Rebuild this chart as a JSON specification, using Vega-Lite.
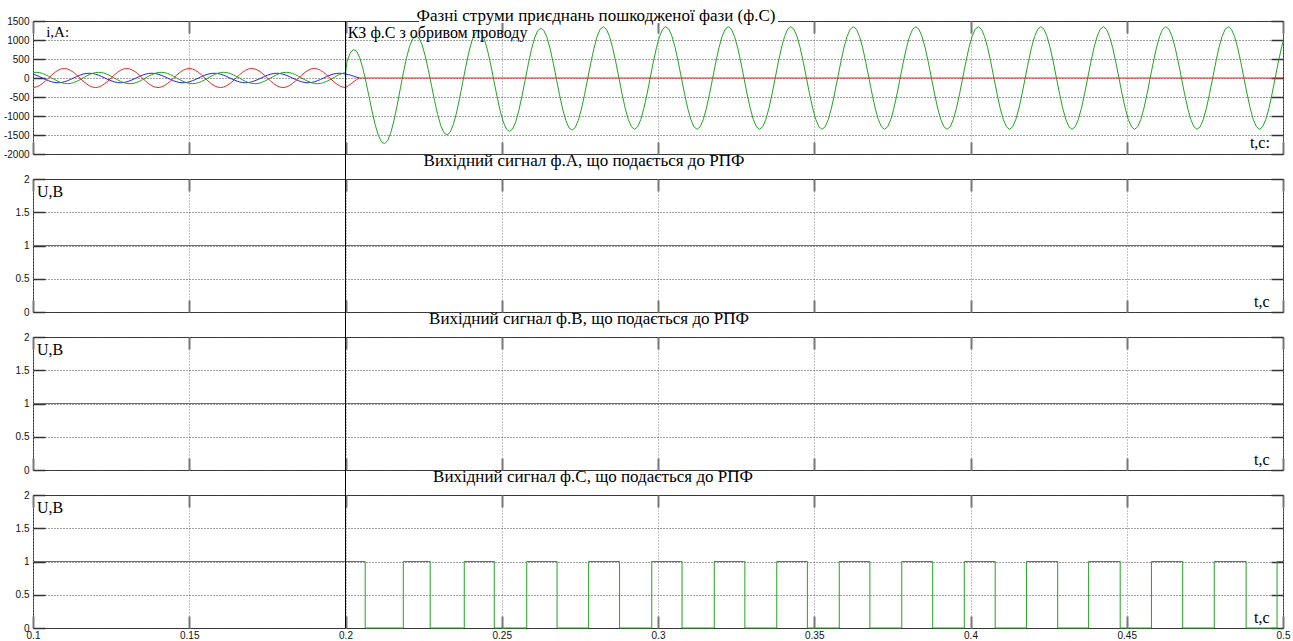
{
"$schema":"https://vega.github.io/schema/vega-lite/v6.json",
"background":"white",
"padding":{"left":2,"top":6,"right":0,"bottom":0},
"datasets":{
"pre":[
{"t":0.1,"r":-250,"g":143,"b":101},{"t":0.101,"r":-238,"g":150,"b":73},{"t":0.102,"r":-202,"g":143,"b":39},{"t":0.103,"r":-147,"g":121,"b":0},{"t":0.104,"r":-77,"g":88,"b":-39},{"t":0.105,"r":0,"g":46,"b":-73},{"t":0.106,"r":77,"g":0,"b":-101},{"t":0.107,"r":147,"g":-46,"b":-119},{"t":0.108,"r":202,"g":-88,"b":-125},{"t":0.109,"r":238,"g":-121,"b":-119},
{"t":0.11,"r":250,"g":-143,"b":-101},{"t":0.111,"r":238,"g":-150,"b":-73},{"t":0.112,"r":202,"g":-143,"b":-39},{"t":0.113,"r":147,"g":-121,"b":0},{"t":0.114,"r":77,"g":-88,"b":39},{"t":0.115,"r":0,"g":-46,"b":73},{"t":0.116,"r":-77,"g":0,"b":101},{"t":0.117,"r":-147,"g":46,"b":119},{"t":0.118,"r":-202,"g":88,"b":125},{"t":0.119,"r":-238,"g":121,"b":119},
{"t":0.12,"r":-250,"g":143,"b":101},{"t":0.121,"r":-238,"g":150,"b":73},{"t":0.122,"r":-202,"g":143,"b":39},{"t":0.123,"r":-147,"g":121,"b":0},{"t":0.124,"r":-77,"g":88,"b":-39},{"t":0.125,"r":0,"g":46,"b":-73},{"t":0.126,"r":77,"g":0,"b":-101},{"t":0.127,"r":147,"g":-46,"b":-119},{"t":0.128,"r":202,"g":-88,"b":-125},{"t":0.129,"r":238,"g":-121,"b":-119},
{"t":0.13,"r":250,"g":-143,"b":-101},{"t":0.131,"r":238,"g":-150,"b":-73},{"t":0.132,"r":202,"g":-143,"b":-39},{"t":0.133,"r":147,"g":-121,"b":0},{"t":0.134,"r":77,"g":-88,"b":39},{"t":0.135,"r":0,"g":-46,"b":73},{"t":0.136,"r":-77,"g":0,"b":101},{"t":0.137,"r":-147,"g":46,"b":119},{"t":0.138,"r":-202,"g":88,"b":125},{"t":0.139,"r":-238,"g":121,"b":119},
{"t":0.14,"r":-250,"g":143,"b":101},{"t":0.141,"r":-238,"g":150,"b":73},{"t":0.142,"r":-202,"g":143,"b":39},{"t":0.143,"r":-147,"g":121,"b":0},{"t":0.144,"r":-77,"g":88,"b":-39},{"t":0.145,"r":0,"g":46,"b":-73},{"t":0.146,"r":77,"g":0,"b":-101},{"t":0.147,"r":147,"g":-46,"b":-119},{"t":0.148,"r":202,"g":-88,"b":-125},{"t":0.149,"r":238,"g":-121,"b":-119},
{"t":0.15,"r":250,"g":-143,"b":-101},{"t":0.151,"r":238,"g":-150,"b":-73},{"t":0.152,"r":202,"g":-143,"b":-39},{"t":0.153,"r":147,"g":-121,"b":0},{"t":0.154,"r":77,"g":-88,"b":39},{"t":0.155,"r":0,"g":-46,"b":73},{"t":0.156,"r":-77,"g":0,"b":101},{"t":0.157,"r":-147,"g":46,"b":119},{"t":0.158,"r":-202,"g":88,"b":125},{"t":0.159,"r":-238,"g":121,"b":119},
{"t":0.16,"r":-250,"g":143,"b":101},{"t":0.161,"r":-238,"g":150,"b":73},{"t":0.162,"r":-202,"g":143,"b":39},{"t":0.163,"r":-147,"g":121,"b":0},{"t":0.164,"r":-77,"g":88,"b":-39},{"t":0.165,"r":0,"g":46,"b":-73},{"t":0.166,"r":77,"g":0,"b":-101},{"t":0.167,"r":147,"g":-46,"b":-119},{"t":0.168,"r":202,"g":-88,"b":-125},{"t":0.169,"r":238,"g":-121,"b":-119},
{"t":0.17,"r":250,"g":-143,"b":-101},{"t":0.171,"r":238,"g":-150,"b":-73},{"t":0.172,"r":202,"g":-143,"b":-39},{"t":0.173,"r":147,"g":-121,"b":0},{"t":0.174,"r":77,"g":-88,"b":39},{"t":0.175,"r":0,"g":-46,"b":73},{"t":0.176,"r":-77,"g":0,"b":101},{"t":0.177,"r":-147,"g":46,"b":119},{"t":0.178,"r":-202,"g":88,"b":125},{"t":0.179,"r":-238,"g":121,"b":119},
{"t":0.18,"r":-250,"g":143,"b":101},{"t":0.181,"r":-238,"g":150,"b":73},{"t":0.182,"r":-202,"g":143,"b":39},{"t":0.183,"r":-147,"g":121,"b":0},{"t":0.184,"r":-77,"g":88,"b":-39},{"t":0.185,"r":0,"g":46,"b":-73},{"t":0.186,"r":77,"g":0,"b":-101},{"t":0.187,"r":147,"g":-46,"b":-119},{"t":0.188,"r":202,"g":-88,"b":-125},{"t":0.189,"r":238,"g":-121,"b":-119},
{"t":0.19,"r":250,"g":-143,"b":-101},{"t":0.191,"r":238,"g":-150,"b":-73},{"t":0.192,"r":202,"g":-143,"b":-39},{"t":0.193,"r":147,"g":-121,"b":0},{"t":0.194,"r":77,"g":-88,"b":39},{"t":0.195,"r":0,"g":-46,"b":73},{"t":0.196,"r":-77,"g":0,"b":101},{"t":0.197,"r":-147,"g":46,"b":119},{"t":0.198,"r":-202,"g":88,"b":125},{"t":0.199,"r":-238,"g":121,"b":119},
{"t":0.2,"r":-250,"g":143,"b":101}
],
"decb":[
{"t":0.2,"b":101},{"t":0.201,"b":90},{"t":0.202,"b":65},{"t":0.203,"b":35},{"t":0.204,"b":10},{"t":0.2045,"b":0}
],
"decr":[
{"t":0.2,"r":-250},{"t":0.201,"r":-200},{"t":0.202,"r":-140},{"t":0.203,"r":-75},{"t":0.204,"r":-20},{"t":0.2045,"r":0},{"t":0.5,"r":0}
],
"post":[
{"t":0.2,"g":143},
{"t":0.2005,"g":433},{"t":0.2015,"g":655},{"t":0.2025,"g":750},{"t":0.2035,"g":711},{"t":0.2045,"g":545},{"t":0.2055,"g":271},{"t":0.2065,"g":-82},{"t":0.2075,"g":-476},{"t":0.2085,"g":-872},{"t":0.2095,"g":-1228},
{"t":0.2105,"g":-1507},{"t":0.2115,"g":-1680},{"t":0.2125,"g":-1728},{"t":0.2135,"g":-1645},{"t":0.2145,"g":-1437},{"t":0.2155,"g":-1123},{"t":0.2165,"g":-731},{"t":0.2175,"g":-300},{"t":0.2185,"g":131},{"t":0.2195,"g":521},
{"t":0.2205,"g":831},{"t":0.2215,"g":1035},{"t":0.2225,"g":1112},{"t":0.2235,"g":1057},{"t":0.2245,"g":875},{"t":0.2255,"g":587},{"t":0.2265,"g":219},{"t":0.2275,"g":-189},{"t":0.2285,"g":-597},{"t":0.2295,"g":-966},
{"t":0.2305,"g":-1256},{"t":0.2315,"g":-1441},{"t":0.2325,"g":-1500},{"t":0.2335,"g":-1427},{"t":0.2345,"g":-1229},{"t":0.2355,"g":-924},{"t":0.2365,"g":-541},{"t":0.2375,"g":-119},{"t":0.2385,"g":304},{"t":0.2395,"g":686},
{"t":0.2405,"g":989},{"t":0.2415,"g":1185},{"t":0.2425,"g":1256},{"t":0.2435,"g":1194},{"t":0.2445,"g":1006},{"t":0.2455,"g":712},{"t":0.2465,"g":339},{"t":0.2475,"g":-75},{"t":0.2485,"g":-488},{"t":0.2495,"g":-862},
{"t":0.2505,"g":-1157},{"t":0.2515,"g":-1346},{"t":0.2525,"g":-1409},{"t":0.2535,"g":-1341},{"t":0.2545,"g":-1146},{"t":0.2555,"g":-846},{"t":0.2565,"g":-466},{"t":0.2575,"g":-47},{"t":0.2585,"g":372},{"t":0.2595,"g":751},
{"t":0.2605,"g":1051},{"t":0.2615,"g":1245},{"t":0.2625,"g":1313},{"t":0.2635,"g":1248},{"t":0.2645,"g":1058},{"t":0.2655,"g":761},{"t":0.2665,"g":386},{"t":0.2675,"g":-30},{"t":0.2685,"g":-445},{"t":0.2695,"g":-821},
{"t":0.2705,"g":-1118},{"t":0.2715,"g":-1309},{"t":0.2725,"g":-1374},{"t":0.2735,"g":-1306},{"t":0.2745,"g":-1113},{"t":0.2755,"g":-814},{"t":0.2765,"g":-437},{"t":0.2775,"g":-19},{"t":0.2785,"g":399},{"t":0.2795,"g":777},
{"t":0.2805,"g":1092},{"t":0.2815,"g":1284},{"t":0.2825,"g":1350},{"t":0.2835,"g":1284},{"t":0.2845,"g":1092},{"t":0.2855,"g":794},{"t":0.2865,"g":417},{"t":0.2875,"g":0},{"t":0.2885,"g":-417},{"t":0.2895,"g":-794},
{"t":0.2905,"g":-1092},{"t":0.2915,"g":-1284},{"t":0.2925,"g":-1350},{"t":0.2935,"g":-1284},{"t":0.2945,"g":-1092},{"t":0.2955,"g":-794},{"t":0.2965,"g":-417},{"t":0.2975,"g":0},{"t":0.2985,"g":417},{"t":0.2995,"g":794},
{"t":0.3005,"g":1092},{"t":0.3015,"g":1284},{"t":0.3025,"g":1350},{"t":0.3035,"g":1284},{"t":0.3045,"g":1092},{"t":0.3055,"g":794},{"t":0.3065,"g":417},{"t":0.3075,"g":0},{"t":0.3085,"g":-417},{"t":0.3095,"g":-794},
{"t":0.3105,"g":-1092},{"t":0.3115,"g":-1284},{"t":0.3125,"g":-1350},{"t":0.3135,"g":-1284},{"t":0.3145,"g":-1092},{"t":0.3155,"g":-794},{"t":0.3165,"g":-417},{"t":0.3175,"g":0},{"t":0.3185,"g":417},{"t":0.3195,"g":794},
{"t":0.3205,"g":1092},{"t":0.3215,"g":1284},{"t":0.3225,"g":1350},{"t":0.3235,"g":1284},{"t":0.3245,"g":1092},{"t":0.3255,"g":794},{"t":0.3265,"g":417},{"t":0.3275,"g":0},{"t":0.3285,"g":-417},{"t":0.3295,"g":-794},
{"t":0.3305,"g":-1092},{"t":0.3315,"g":-1284},{"t":0.3325,"g":-1350},{"t":0.3335,"g":-1284},{"t":0.3345,"g":-1092},{"t":0.3355,"g":-794},{"t":0.3365,"g":-417},{"t":0.3375,"g":0},{"t":0.3385,"g":417},{"t":0.3395,"g":794},
{"t":0.3405,"g":1092},{"t":0.3415,"g":1284},{"t":0.3425,"g":1350},{"t":0.3435,"g":1284},{"t":0.3445,"g":1092},{"t":0.3455,"g":794},{"t":0.3465,"g":417},{"t":0.3475,"g":0},{"t":0.3485,"g":-417},{"t":0.3495,"g":-794},
{"t":0.3505,"g":-1092},{"t":0.3515,"g":-1284},{"t":0.3525,"g":-1350},{"t":0.3535,"g":-1284},{"t":0.3545,"g":-1092},{"t":0.3555,"g":-794},{"t":0.3565,"g":-417},{"t":0.3575,"g":0},{"t":0.3585,"g":417},{"t":0.3595,"g":794},
{"t":0.3605,"g":1092},{"t":0.3615,"g":1284},{"t":0.3625,"g":1350},{"t":0.3635,"g":1284},{"t":0.3645,"g":1092},{"t":0.3655,"g":794},{"t":0.3665,"g":417},{"t":0.3675,"g":0},{"t":0.3685,"g":-417},{"t":0.3695,"g":-794},
{"t":0.3705,"g":-1092},{"t":0.3715,"g":-1284},{"t":0.3725,"g":-1350},{"t":0.3735,"g":-1284},{"t":0.3745,"g":-1092},{"t":0.3755,"g":-794},{"t":0.3765,"g":-417},{"t":0.3775,"g":0},{"t":0.3785,"g":417},{"t":0.3795,"g":794},
{"t":0.3805,"g":1092},{"t":0.3815,"g":1284},{"t":0.3825,"g":1350},{"t":0.3835,"g":1284},{"t":0.3845,"g":1092},{"t":0.3855,"g":794},{"t":0.3865,"g":417},{"t":0.3875,"g":0},{"t":0.3885,"g":-417},{"t":0.3895,"g":-794},
{"t":0.3905,"g":-1092},{"t":0.3915,"g":-1284},{"t":0.3925,"g":-1350},{"t":0.3935,"g":-1284},{"t":0.3945,"g":-1092},{"t":0.3955,"g":-794},{"t":0.3965,"g":-417},{"t":0.3975,"g":0},{"t":0.3985,"g":417},{"t":0.3995,"g":794},
{"t":0.4005,"g":1092},{"t":0.4015,"g":1284},{"t":0.4025,"g":1350},{"t":0.4035,"g":1284},{"t":0.4045,"g":1092},{"t":0.4055,"g":794},{"t":0.4065,"g":417},{"t":0.4075,"g":0},{"t":0.4085,"g":-417},{"t":0.4095,"g":-794},
{"t":0.4105,"g":-1092},{"t":0.4115,"g":-1284},{"t":0.4125,"g":-1350},{"t":0.4135,"g":-1284},{"t":0.4145,"g":-1092},{"t":0.4155,"g":-794},{"t":0.4165,"g":-417},{"t":0.4175,"g":0},{"t":0.4185,"g":417},{"t":0.4195,"g":794},
{"t":0.4205,"g":1092},{"t":0.4215,"g":1284},{"t":0.4225,"g":1350},{"t":0.4235,"g":1284},{"t":0.4245,"g":1092},{"t":0.4255,"g":794},{"t":0.4265,"g":417},{"t":0.4275,"g":0},{"t":0.4285,"g":-417},{"t":0.4295,"g":-794},
{"t":0.4305,"g":-1092},{"t":0.4315,"g":-1284},{"t":0.4325,"g":-1350},{"t":0.4335,"g":-1284},{"t":0.4345,"g":-1092},{"t":0.4355,"g":-794},{"t":0.4365,"g":-417},{"t":0.4375,"g":0},{"t":0.4385,"g":417},{"t":0.4395,"g":794},
{"t":0.4405,"g":1092},{"t":0.4415,"g":1284},{"t":0.4425,"g":1350},{"t":0.4435,"g":1284},{"t":0.4445,"g":1092},{"t":0.4455,"g":794},{"t":0.4465,"g":417},{"t":0.4475,"g":0},{"t":0.4485,"g":-417},{"t":0.4495,"g":-794},
{"t":0.4505,"g":-1092},{"t":0.4515,"g":-1284},{"t":0.4525,"g":-1350},{"t":0.4535,"g":-1284},{"t":0.4545,"g":-1092},{"t":0.4555,"g":-794},{"t":0.4565,"g":-417},{"t":0.4575,"g":0},{"t":0.4585,"g":417},{"t":0.4595,"g":794},
{"t":0.4605,"g":1092},{"t":0.4615,"g":1284},{"t":0.4625,"g":1350},{"t":0.4635,"g":1284},{"t":0.4645,"g":1092},{"t":0.4655,"g":794},{"t":0.4665,"g":417},{"t":0.4675,"g":0},{"t":0.4685,"g":-417},{"t":0.4695,"g":-794},
{"t":0.4705,"g":-1092},{"t":0.4715,"g":-1284},{"t":0.4725,"g":-1350},{"t":0.4735,"g":-1284},{"t":0.4745,"g":-1092},{"t":0.4755,"g":-794},{"t":0.4765,"g":-417},{"t":0.4775,"g":0},{"t":0.4785,"g":417},{"t":0.4795,"g":794},
{"t":0.4805,"g":1092},{"t":0.4815,"g":1284},{"t":0.4825,"g":1350},{"t":0.4835,"g":1284},{"t":0.4845,"g":1092},{"t":0.4855,"g":794},{"t":0.4865,"g":417},{"t":0.4875,"g":0},{"t":0.4885,"g":-417},{"t":0.4895,"g":-794},
{"t":0.4905,"g":-1092},{"t":0.4915,"g":-1284},{"t":0.4925,"g":-1350},{"t":0.4935,"g":-1284},{"t":0.4945,"g":-1092},{"t":0.4955,"g":-794},{"t":0.4965,"g":-417},{"t":0.4975,"g":0},{"t":0.4985,"g":417},{"t":0.4995,"g":794},
{"t":0.5,"g":955}
],
"one":[{"t":0.1,"v":1},{"t":0.5,"v":1}],
"sq":[
{"t":0.1,"v":1},{"t":0.2063,"v":0},{"t":0.2185,"v":1},{"t":0.2271,"v":0},{"t":0.238,"v":1},{"t":0.2476,"v":0},{"t":0.258,"v":1},{"t":0.2677,"v":0},{"t":0.2778,"v":1},{"t":0.2877,"v":0},{"t":0.298,"v":1},{"t":0.3077,"v":0},{"t":0.318,"v":1},{"t":0.3278,"v":0},{"t":0.338,"v":1},{"t":0.3478,"v":0},{"t":0.358,"v":1},{"t":0.3678,"v":0},{"t":0.378,"v":1},{"t":0.3879,"v":0},{"t":0.398,"v":1},{"t":0.4079,"v":0},{"t":0.4179,"v":1},{"t":0.4279,"v":0},{"t":0.4378,"v":1},{"t":0.4479,"v":0},{"t":0.4579,"v":1},{"t":0.4679,"v":0},{"t":0.478,"v":1},{"t":0.4882,"v":0},{"t":0.4981,"v":1},{"t":0.5,"v":1}
]
},
"vconcat":[
{
"width":1250,"height":133,
"title":{"text":"Фазні струми приєднань пошкодженої фази (ф.С)","offset":-10,"dx":-62},
"resolve":{"axis":{"x":"independent","y":"independent"}},
"layer":[
{"data":{"name":"pre"},"mark":{"type":"line","color":"#2323e6","strokeWidth":1},
"encoding":{
"x":{"field":"t","type":"quantitative","scale":{"domain":[0.1,0.5],"nice":false,"zero":false},"axis":{"orient":"bottom","values":[0.1,0.15,0.2,0.25,0.3,0.35,0.4,0.45,0.5],"labels":false,"grid":true,"gridColor":"#8a8a8a","gridDash":[1,2],"tickSize":-12,"tickColor":"#777","tickWidth":2,"domain":false,"title":null}},
"y":{"field":"b","type":"quantitative","scale":{"domain":[-2000,1500],"nice":false,"zero":false},"axis":{"orient":"left","values":[-2000,-1500,-1000,-500,0,500,1000,1500],"labelExpr":"'' + datum.value","labelPadding":16,"tickSize":-12,"tickColor":"#333","tickWidth":1.5,"grid":true,"gridColor":"#444","gridDash":[1,2],"domain":false,"title":null}}}},
{"data":{"name":"pre"},"mark":{"type":"line","color":"#1fa51f","strokeWidth":1},"encoding":{"x":{"field":"t","type":"quantitative","axis":null},"y":{"field":"g","type":"quantitative","axis":null}}},
{"data":{"name":"pre"},"mark":{"type":"line","color":"#f02424","strokeWidth":1},"encoding":{"x":{"field":"t","type":"quantitative","axis":null},"y":{"field":"r","type":"quantitative","axis":null}}},
{"data":{"name":"decb"},"mark":{"type":"line","color":"#2323e6","strokeWidth":1},"encoding":{"x":{"field":"t","type":"quantitative","axis":null},"y":{"field":"b","type":"quantitative","axis":null}}},
{"data":{"name":"post"},"mark":{"type":"line","color":"#1fa51f","strokeWidth":1},"encoding":{"x":{"field":"t","type":"quantitative","axis":null},"y":{"field":"g","type":"quantitative","axis":null}}},
{"data":{"name":"decr"},"mark":{"type":"line","color":"#f02424","strokeWidth":1},"encoding":{"x":{"field":"t","type":"quantitative","axis":null},"y":{"field":"r","type":"quantitative","axis":null}}},
{"data":{"values":[{}]},"mark":{"type":"rule","color":"#000","strokeWidth":1},
"encoding":{
"x":{"datum":0.2,"type":"quantitative","axis":{"orient":"top","values":[0.1,0.15,0.2,0.25,0.3,0.35,0.4,0.45,0.5],"labels":false,"grid":false,"tickSize":-12,"tickColor":"#777","tickWidth":2,"domain":false,"title":null}},
"y":{"datum":1500,"type":"quantitative","axis":{"orient":"right","values":[-2000,-1500,-1000,-500,0,500,1000,1500],"labels":false,"grid":false,"tickSize":-12,"tickColor":"#333","tickWidth":1.5,"domain":false,"title":null}},
"y2":{"datum":-2658}}},
{"data":{"values":[{}]},"mark":{"type":"rect","color":"#ffffff","opacity":1},"encoding":{"x":{"datum":0.2235,"type":"quantitative","axis":null},"x2":{"datum":0.3384},"y":{"datum":1450,"type":"quantitative","axis":null},"y2":{"datum":1660}}},
{"data":{"values":[{}]},"mark":{"type":"text","font":"Liberation Serif","fontSize":15,"align":"left","baseline":"alphabetic","color":"#000"},"encoding":{"x":{"datum":0.1042,"type":"quantitative","axis":null},"y":{"datum":1080,"type":"quantitative","axis":null},"text":{"value":"i,А:"}}},
{"data":{"values":[{}]},"mark":{"type":"text","font":"Liberation Serif","fontSize":16,"align":"left","baseline":"alphabetic","color":"#000"},"encoding":{"x":{"datum":0.2007,"type":"quantitative","axis":null},"y":{"datum":1060,"type":"quantitative","axis":null},"text":{"value":"КЗ ф.С з обривом проводу"}}},
{"data":{"values":[{}]},"mark":{"type":"text","font":"Liberation Serif","fontSize":16,"align":"left","baseline":"alphabetic","color":"#000"},"encoding":{"x":{"datum":0.4894,"type":"quantitative","axis":null},"y":{"datum":-1842,"type":"quantitative","axis":null},"text":{"value":"t,с:"}}}
]
},
{
"width":1250,"height":133,
"title":{"text":"Вихідний сигнал ф.А, що подається до РПФ","dx":-74},
"resolve":{"axis":{"x":"independent","y":"independent"}},
"layer":[
{"data":{"name":"one"},"mark":{"type":"line","color":"#1fa51f","strokeWidth":1},
"encoding":{
"x":{"field":"t","type":"quantitative","scale":{"domain":[0.1,0.5],"nice":false,"zero":false},"axis":{"orient":"bottom","values":[0.1,0.15,0.2,0.25,0.3,0.35,0.4,0.45,0.5],"labels":false,"grid":true,"gridColor":"#8a8a8a","gridDash":[1,2],"tickSize":-12,"tickColor":"#777","tickWidth":2,"domain":false,"title":null}},
"y":{"field":"v","type":"quantitative","scale":{"domain":[0,2],"nice":false,"zero":false},"axis":{"orient":"left","values":[0,0.5,1,1.5,2],"labelExpr":"'' + datum.value","labelPadding":16,"tickSize":-12,"tickColor":"#333","tickWidth":1.5,"grid":true,"gridColor":"#444","gridDash":[1,2],"domain":false,"title":null}}}},
{"data":{"values":[{}]},"mark":{"type":"rule","color":"#000","strokeWidth":1},
"encoding":{
"x":{"datum":0.2,"type":"quantitative","axis":{"orient":"top","values":[0.1,0.15,0.2,0.25,0.3,0.35,0.4,0.45,0.5],"labels":false,"grid":false,"tickSize":-12,"tickColor":"#777","tickWidth":2,"domain":false,"title":null}},
"y":{"datum":2,"type":"quantitative","axis":{"orient":"right","values":[0,0.5,1,1.5,2],"labels":false,"grid":false,"tickSize":-12,"tickColor":"#333","tickWidth":1.5,"domain":false,"title":null}},
"y2":{"datum":-0.376}}},
{"data":{"values":[{}]},"mark":{"type":"text","font":"Liberation Serif","fontSize":16,"align":"left","baseline":"alphabetic","color":"#000"},"encoding":{"x":{"datum":0.1013,"type":"quantitative","axis":null},"y":{"datum":1.73,"type":"quantitative","axis":null},"text":{"value":"U,В"}}},
{"data":{"values":[{}]},"mark":{"type":"text","font":"Liberation Serif","fontSize":16,"align":"left","baseline":"alphabetic","color":"#000"},"encoding":{"x":{"datum":0.4907,"type":"quantitative","axis":null},"y":{"datum":0.075,"type":"quantitative","axis":null},"text":{"value":"t,с"}}}
]
},
{
"width":1250,"height":133,
"title":{"text":"Вихідний сигнал ф.В, що подається до РПФ","dx":-69},
"resolve":{"axis":{"x":"independent","y":"independent"}},
"layer":[
{"data":{"name":"one"},"mark":{"type":"line","color":"#1fa51f","strokeWidth":1},
"encoding":{
"x":{"field":"t","type":"quantitative","scale":{"domain":[0.1,0.5],"nice":false,"zero":false},"axis":{"orient":"bottom","values":[0.1,0.15,0.2,0.25,0.3,0.35,0.4,0.45,0.5],"labels":false,"grid":true,"gridColor":"#8a8a8a","gridDash":[1,2],"tickSize":-12,"tickColor":"#777","tickWidth":2,"domain":false,"title":null}},
"y":{"field":"v","type":"quantitative","scale":{"domain":[0,2],"nice":false,"zero":false},"axis":{"orient":"left","values":[0,0.5,1,1.5,2],"labelExpr":"'' + datum.value","labelPadding":16,"tickSize":-12,"tickColor":"#333","tickWidth":1.5,"grid":true,"gridColor":"#444","gridDash":[1,2],"domain":false,"title":null}}}},
{"data":{"values":[{}]},"mark":{"type":"rule","color":"#000","strokeWidth":1},
"encoding":{
"x":{"datum":0.2,"type":"quantitative","axis":{"orient":"top","values":[0.1,0.15,0.2,0.25,0.3,0.35,0.4,0.45,0.5],"labels":false,"grid":false,"tickSize":-12,"tickColor":"#777","tickWidth":2,"domain":false,"title":null}},
"y":{"datum":2,"type":"quantitative","axis":{"orient":"right","values":[0,0.5,1,1.5,2],"labels":false,"grid":false,"tickSize":-12,"tickColor":"#333","tickWidth":1.5,"domain":false,"title":null}},
"y2":{"datum":-0.39}}},
{"data":{"values":[{}]},"mark":{"type":"text","font":"Liberation Serif","fontSize":16,"align":"left","baseline":"alphabetic","color":"#000"},"encoding":{"x":{"datum":0.1013,"type":"quantitative","axis":null},"y":{"datum":1.73,"type":"quantitative","axis":null},"text":{"value":"U,В"}}},
{"data":{"values":[{}]},"mark":{"type":"text","font":"Liberation Serif","fontSize":16,"align":"left","baseline":"alphabetic","color":"#000"},"encoding":{"x":{"datum":0.4907,"type":"quantitative","axis":null},"y":{"datum":0.075,"type":"quantitative","axis":null},"text":{"value":"t,с"}}}
]
},
{
"width":1250,"height":133,
"title":{"text":"Вихідний сигнал ф.С, що подається до РПФ","dx":-65},
"resolve":{"axis":{"x":"independent","y":"independent"}},
"layer":[
{"data":{"name":"sq"},"mark":{"type":"line","color":"#1fa51f","strokeWidth":1,"interpolate":"step-after"},
"encoding":{
"x":{"field":"t","type":"quantitative","scale":{"domain":[0.1,0.5],"nice":false,"zero":false},"axis":{"orient":"bottom","values":[0.1,0.15,0.2,0.25,0.3,0.35,0.4,0.45,0.5],"labels":true,"labelExpr":"'' + datum.value","labelPadding":14,"grid":true,"gridColor":"#8a8a8a","gridDash":[1,2],"tickSize":-12,"tickColor":"#777","tickWidth":2,"domain":false,"title":null}},
"y":{"field":"v","type":"quantitative","scale":{"domain":[0,2],"nice":false,"zero":false},"axis":{"orient":"left","values":[0,0.5,1,1.5,2],"labelExpr":"'' + datum.value","labelPadding":16,"tickSize":-12,"tickColor":"#333","tickWidth":1.5,"grid":true,"gridColor":"#444","gridDash":[1,2],"domain":false,"title":null}}}},
{"data":{"values":[{}]},"mark":{"type":"rule","color":"#000","strokeWidth":1},
"encoding":{
"x":{"datum":0.2,"type":"quantitative","axis":{"orient":"top","values":[0.1,0.15,0.2,0.25,0.3,0.35,0.4,0.45,0.5],"labels":false,"grid":false,"tickSize":-12,"tickColor":"#777","tickWidth":2,"domain":false,"title":null}},
"y":{"datum":2,"type":"quantitative","axis":{"orient":"right","values":[0,0.5,1,1.5,2],"labels":false,"grid":false,"tickSize":-12,"tickColor":"#333","tickWidth":1.5,"domain":false,"title":null}},
"y2":{"datum":0}}},
{"data":{"values":[{}]},"mark":{"type":"text","font":"Liberation Serif","fontSize":16,"align":"left","baseline":"alphabetic","color":"#000"},"encoding":{"x":{"datum":0.1013,"type":"quantitative","axis":null},"y":{"datum":1.73,"type":"quantitative","axis":null},"text":{"value":"U,В"}}},
{"data":{"values":[{}]},"mark":{"type":"text","font":"Liberation Serif","fontSize":16,"align":"left","baseline":"alphabetic","color":"#000"},"encoding":{"x":{"datum":0.4907,"type":"quantitative","axis":null},"y":{"datum":0.075,"type":"quantitative","axis":null},"text":{"value":"t,с"}}}
]
}
],
"spacing":25,
"bounds":"flush",
"config":{
"view":{"stroke":"#333","strokeWidth":1},
"axis":{"labelFont":"Liberation Sans","labelFontSize":10,"labelColor":"#111","labelFlush":false,"labelOverlap":false,"gridOpacity":1},
"title":{"font":"Liberation Serif","fontSize":17,"fontWeight":"normal","color":"#000","anchor":"middle","frame":"group","baseline":"alphabetic","offset":0}
}
}
